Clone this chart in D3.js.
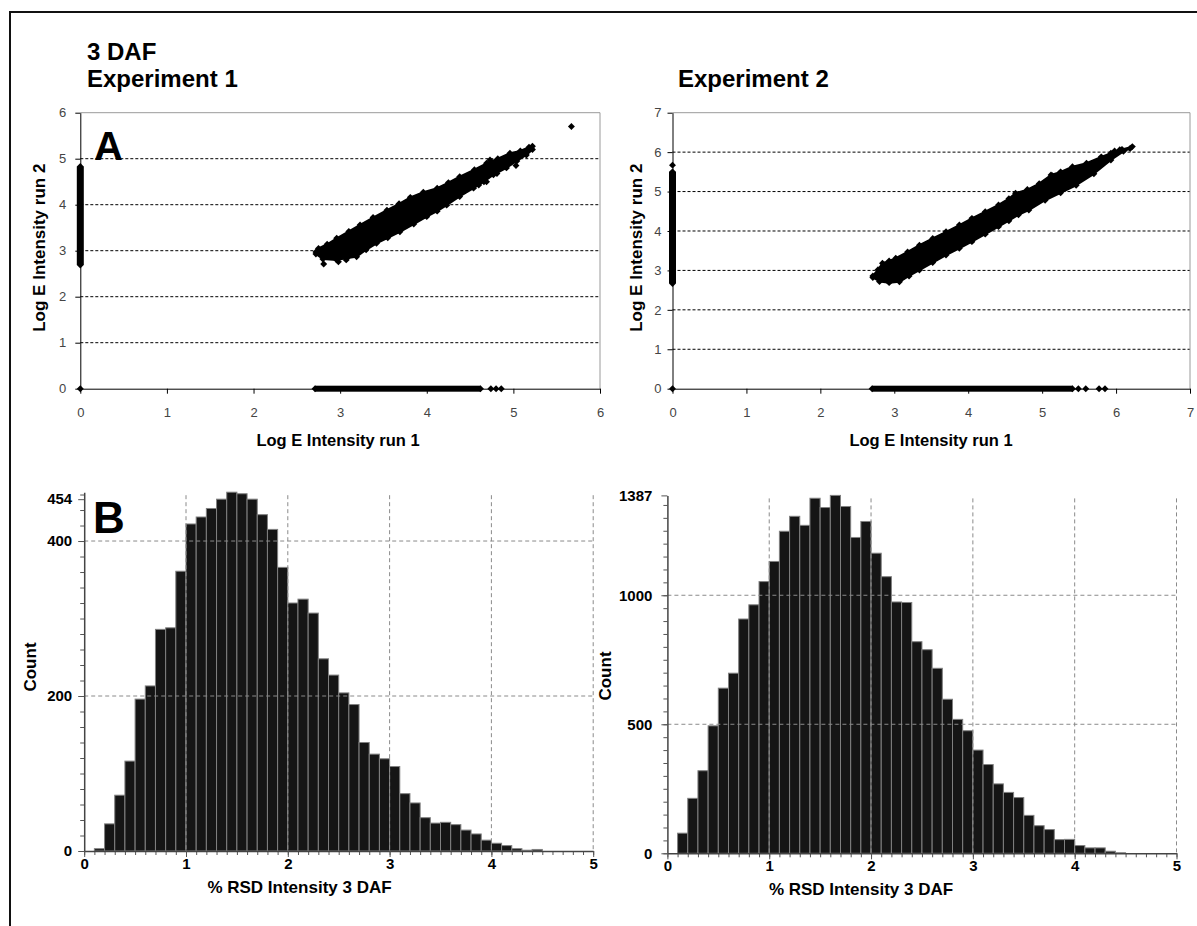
<!DOCTYPE html>
<html>
<head>
<meta charset="utf-8">
<script src="https://cdn.jsdelivr.net/npm/d3@7"></script>
<style>
  body { margin: 0; background: #fff; }
  svg text { font-family: "Liberation Sans", Arial, sans-serif; }
</style>
</head>
<body>
<div id="fig"></div>
<script>
    // ---- Panel A, experiment 1: edges of the dense cloud (log run 1, log run 2)
    const exp1Upper = [[2.72,2.97],[2.75,3.05],[2.85,3.14],[2.96,3.27],[3.10,3.42],[3.23,3.56],[3.38,3.72],
        [3.54,3.88],[3.68,4.02],[3.81,4.16],[3.96,4.27],[4.12,4.36],[4.25,4.48],[4.38,4.61],[4.55,4.76],
        [4.69,4.90],[4.82,5.00],[4.96,5.12],[5.08,5.17],[5.18,5.25],[5.22,5.27]];
    const exp1Lower = [[2.72,2.93],[2.80,2.82],[2.96,2.80],[3.08,2.84],[3.19,2.87],[3.30,3.02],[3.42,3.16],
        [3.55,3.28],[3.69,3.41],[3.85,3.58],[4.00,3.74],[4.12,3.86],[4.23,3.99],[4.38,4.18],[4.54,4.36],
        [4.66,4.50],[4.77,4.65],[4.92,4.80],[5.04,4.95],[5.15,5.08],[5.22,5.20]];
    const exp1Outliers = [[2.81,2.71],[2.98,2.76],[3.07,2.80],[4.60,4.43],[4.69,4.50],[4.81,4.68],
        [4.73,4.97],[5.03,4.85],[5.67,5.70]];
    // points with run 2 missing (y = 0) and run 1 missing (x = 0)
    const exp1ZeroY = [2.71, 4.62];
    const exp1ZeroYExtra = [4.74, 4.80, 4.86];
    const exp1ZeroX = [2.69, 4.83];

    // ---- Panel A, experiment 2
    const exp2Upper = [[2.71,2.86],[2.78,3.02],[2.84,3.18],[2.93,3.24],[3.02,3.31],[3.18,3.47],[3.34,3.64],
        [3.52,3.81],[3.70,3.98],[3.88,4.15],[4.05,4.32],[4.23,4.49],[4.41,4.66],[4.55,4.82],[4.64,4.96],
        [4.80,5.05],[4.96,5.20],[5.12,5.42],[5.25,5.50],[5.41,5.63],[5.60,5.72],[5.80,5.88],[5.93,5.97],
        [6.08,6.07],[6.22,6.14]];
    const exp2Lower = [[2.71,2.82],[2.80,2.72],[2.93,2.69],[3.07,2.71],[3.20,2.86],[3.34,3.01],[3.52,3.20],
        [3.70,3.39],[3.88,3.56],[4.05,3.73],[4.23,3.92],[4.41,4.11],[4.55,4.26],[4.68,4.41],[4.82,4.53],
        [5.04,4.78],[5.25,4.97],[5.46,5.16],[5.70,5.45],[5.93,5.80],[6.10,6.02],[6.19,6.09]];
    const exp2Outliers = [[5.14,5.40],[5.20,5.28],[5.55,5.55],[5.78,5.75],[5.98,6.03],[6.05,6.06]];
    const exp2ZeroY = [2.70, 5.41];
    const exp2ZeroYExtra = [5.49, 5.59, 5.77, 5.85];
    const exp2ZeroX = [2.67, 5.50];
    const exp2ZeroXExtra = [5.67];

    const scatter1Ticks = [0, 1, 2, 3, 4, 5, 6];
    const scatter2Ticks = [0, 1, 2, 3, 4, 5, 6, 7];

    // ---- Panel B: % RSD histograms, bins of 0.1 starting at 0
    const rsdBinWidth = 0.1;
    const hist1Counts = [0, 3, 35, 72, 116, 196, 213, 286, 288, 361, 422, 431, 442, 454, 463, 461, 454, 434, 415, 366,
        320, 325, 307, 248, 227, 204, 189, 140, 125, 119, 109, 74, 62, 43, 36, 37, 34, 27, 22, 14,
        10, 7, 3, 1, 2, 0, 0, 0, 0, 0];
    const hist2Counts = [0, 78, 213, 320, 494, 640, 698, 908, 963, 1053, 1131, 1248, 1306, 1271, 1376, 1340, 1387, 1344, 1224, 1286,
        1163, 1072, 974, 972, 820, 789, 717, 597, 519, 475, 400, 344, 269, 236, 216, 147, 107, 92, 53, 54,
        30, 21, 21, 8, 2, 0, 0, 0, 0, 0];
    const rsdTicks = [0, 1, 2, 3, 4, 5];
    const hist1YTicks = [0, 200, 400, 454];
    const hist2YTicks = [0, 500, 1000, 1387];

    const width = 1197, height = 926;
    const svg = d3.select('#fig').append('svg')
        .attr('width', width).attr('height', height);

    // outer frame (runs off the right and bottom edges)
    svg.append('rect')
        .attr('x', 10).attr('y', 12).attr('width', 1300).attr('height', 1000)
        .attr('fill', 'none').attr('stroke', '#111').attr('stroke-width', 2);

    function diamond(g, pts, x, y) {
        g.selectAll(null).data(pts).enter().append('path')
            .attr('d', d3.symbol().type(d3.symbolSquare).size(24))
            .attr('transform', d => `translate(${x(d[0])},${y(d[1])}) rotate(45)`)
            .attr('fill', '#000');
    }

    function drawScatter(c) {
        const x = d3.scaleLinear().domain([0, c.max]).range([c.left, c.right]);
        const y = d3.scaleLinear().domain([0, c.max]).range([c.bottom, c.top]);
        const g = svg.append('g');

        // dashed gridlines
        g.selectAll('.grid').data(c.ticks.slice(1, -1)).enter().append('line')
            .attr('x1', c.left).attr('x2', c.right)
            .attr('y1', d => y(d)).attr('y2', d => y(d))
            .attr('stroke', '#000').attr('stroke-width', 1)
            .attr('stroke-dasharray', '3,2');

        // plot area border (top / right)
        g.append('path')
            .attr('d', `M${c.left},${y(c.max)}H${x(c.max)}V${y(0)}`)
            .attr('fill', 'none').attr('stroke', '#9a9a9a');

        // axes
        const ya = g.append('g').attr('transform', `translate(${c.left},0)`)
            .call(d3.axisLeft(y).tickValues(c.ticks).tickFormat(d3.format('d'))
                .tickSize(5).tickPadding(c.yPad).tickSizeOuter(0));
        const xa = g.append('g').attr('transform', `translate(0,${c.bottom})`)
            .call(d3.axisBottom(x).tickValues(c.ticks).tickFormat(d3.format('d'))
                .tickSize(5).tickPadding(14).tickSizeOuter(0));
        [ya, xa].forEach(a => {
            a.select('.domain').attr('stroke', '#000');
            a.selectAll('.tick line').attr('stroke', '#000');
            a.selectAll('text').style('font-size', '13px').attr('fill', '#444');
        });

        // cloud of paired points
        const cloud = c.upper.concat(c.lower.slice().reverse());
        g.append('path')
            .attr('d', d3.line().x(d => x(d[0])).y(d => y(d[1]))(cloud) + 'Z')
            .attr('fill', '#000').attr('stroke', '#000').attr('stroke-width', 2)
            .attr('stroke-linejoin', 'round');
        diamond(g, c.upper.concat(c.lower, c.outliers), x, y);

        // points missing in run 2 (on the x axis)
        g.append('rect')
            .attr('x', x(c.zeroY[0])).attr('y', y(0) - 3)
            .attr('width', x(c.zeroY[1]) - x(c.zeroY[0])).attr('height', 6)
            .attr('fill', '#000');
        diamond(g, c.zeroY.concat(c.zeroYExtra).map(v => [v, 0]), x, y);

        // points missing in run 1 (on the y axis)
        g.append('rect')
            .attr('x', x(0) - 3.5).attr('y', y(c.zeroX[1]))
            .attr('width', 7).attr('height', y(c.zeroX[0]) - y(c.zeroX[1]))
            .attr('fill', '#000');
        diamond(g, c.zeroX.concat(c.zeroXExtra).map(v => [0, v]).concat([[0, 0]]), x, y);

        // axis titles
        g.append('text')
            .attr('transform', `translate(${c.yLabelX},${(c.top + c.bottom) / 2 - 3}) rotate(-90)`)
            .attr('text-anchor', 'middle').attr('dy', '0.35em')
            .style('font-size', '17px').style('font-weight', 'bold')
            .text('Log E Intensity run 2');
        g.append('text')
            .attr('x', c.xLabelX).attr('y', 446)
            .attr('text-anchor', 'middle')
            .style('font-size', '16.5px').style('font-weight', 'bold')
            .text('Log E Intensity run 1');
    }

    function drawHist(c) {
        const x = d3.scaleLinear().domain([0, 5]).range([c.left, c.right]);
        const y = d3.scaleLinear().domain([0, c.yTop]).range([c.bottom, c.top]);
        const g = svg.append('g');

        g.selectAll('.bar').data(c.counts).enter().append('rect')
            .attr('class', 'bar')
            .attr('x', (d, i) => x(i * rsdBinWidth))
            .attr('y', d => y(d))
            .attr('width', x(rsdBinWidth) - x(0))
            .attr('height', d => y(0) - y(d))
            .attr('fill', '#151515')
            .attr('stroke', '#808080').attr('stroke-width', 1);

        // dashed grid, drawn over the bars
        g.selectAll('.vgrid').data(c.xTicks.slice(1)).enter().append('line')
            .attr('x1', d => x(d)).attr('x2', d => x(d))
            .attr('y1', c.top + 3).attr('y2', y(0))
            .attr('stroke', '#8a8a8a').attr('stroke-dasharray', '4,3');
        g.selectAll('.hgrid').data(c.gridY).enter().append('line')
            .attr('x1', x(0)).attr('x2', x(5))
            .attr('y1', d => y(d)).attr('y2', d => y(d))
            .attr('stroke', '#8a8a8a').attr('stroke-dasharray', '4,3');

        // minor ticks
        g.append('g').attr('transform', `translate(${c.left},0)`)
            .call(d3.axisLeft(y).tickValues(d3.range(0, c.yTop, c.minorY)).tickSize(4).tickFormat(''))
            .call(a => a.select('.domain').remove());
        g.append('g').attr('transform', `translate(0,${c.bottom})`)
            .call(d3.axisBottom(x).tickValues(d3.range(0, 5.001, 0.1)).tickSize(4).tickFormat(''))
            .call(a => a.select('.domain').remove());

        const ya = g.append('g').attr('transform', `translate(${c.left},0)`)
            .call(d3.axisLeft(y).tickValues(c.yTicks).tickFormat(d3.format('d'))
                .tickSize(6).tickPadding(c.yPad).tickSizeOuter(0));
        const xa = g.append('g').attr('transform', `translate(0,${c.bottom})`)
            .call(d3.axisBottom(x).tickValues(c.xTicks).tickFormat(d3.format('d'))
                .tickSize(6).tickPadding(1).tickSizeOuter(0));
        [ya, xa].forEach(a => {
            a.selectAll('text').style('font-size', '15px').style('font-weight', 'bold').attr('fill', '#000');
        });
        g.selectAll('.tick line').attr('stroke', '#555');
        g.selectAll('.domain').attr('stroke', '#444').attr('stroke-width', 1.5);

        g.append('text')
            .attr('transform', `translate(${c.countX},${c.countY}) rotate(-90)`)
            .attr('text-anchor', 'middle').attr('dy', '0.35em')
            .style('font-size', '17px').style('font-weight', 'bold')
            .text('Count');
        g.append('text')
            .attr('x', c.titleX).attr('y', c.bottom + 42)
            .attr('text-anchor', 'middle')
            .style('font-size', '17px').style('font-weight', 'bold')
            .text('% RSD Intensity 3 DAF');
    }

    drawScatter({ left: 80.3, right: 600, top: 112.7, bottom: 388.7, max: 6, ticks: scatter1Ticks,
        upper: exp1Upper, lower: exp1Lower, outliers: exp1Outliers,
        zeroY: exp1ZeroY, zeroYExtra: exp1ZeroYExtra, zeroX: exp1ZeroX, zeroXExtra: [],
        yPad: 9, yLabelX: 39.5, xLabelX: 338 });
    drawScatter({ left: 672.5, right: 1190, top: 112.7, bottom: 388.7, max: 7, ticks: scatter2Ticks,
        upper: exp2Upper, lower: exp2Lower, outliers: exp2Outliers,
        zeroY: exp2ZeroY, zeroYExtra: exp2ZeroYExtra, zeroX: exp2ZeroX, zeroXExtra: exp2ZeroXExtra,
        yPad: 6, yLabelX: 636.5, xLabelX: 931 });

    drawHist({ left: 84.2, right: 593.2, top: 492.2, bottom: 851, yTop: 463, counts: hist1Counts,
        yTicks: hist1YTicks, gridY: [200, 400], minorY: 20, xTicks: rsdTicks, yPad: 6,
        countX: 30.5, countY: 667, titleX: 299.5 });
    drawHist({ left: 667.4, right: 1176.5, top: 495.4, bottom: 853.3, yTop: 1387, counts: hist2Counts,
        yTicks: hist2YTicks, gridY: [500, 1000], minorY: 50, xTicks: rsdTicks, yPad: 9,
        countX: 605, countY: 676, titleX: 861 });

    // headings and panel letters
    const heads = [['3 DAF', 87, 60], ['Experiment 1', 87, 87], ['Experiment 2', 678, 87]];
    svg.selectAll('.head').data(heads).enter().append('text')
        .attr('x', d => d[1]).attr('y', d => d[2])
        .style('font-size', '24px').style('font-weight', 'bold')
        .text(d => d[0]);
    svg.append('text').attr('x', 94).attr('y', 160)
        .style('font-size', '40px').style('font-weight', 'bold').text('A');
    svg.append('text').attr('x', 93).attr('y', 533)
        .style('font-size', '44px').style('font-weight', 'bold').text('B');
</script>
</body>
</html>
